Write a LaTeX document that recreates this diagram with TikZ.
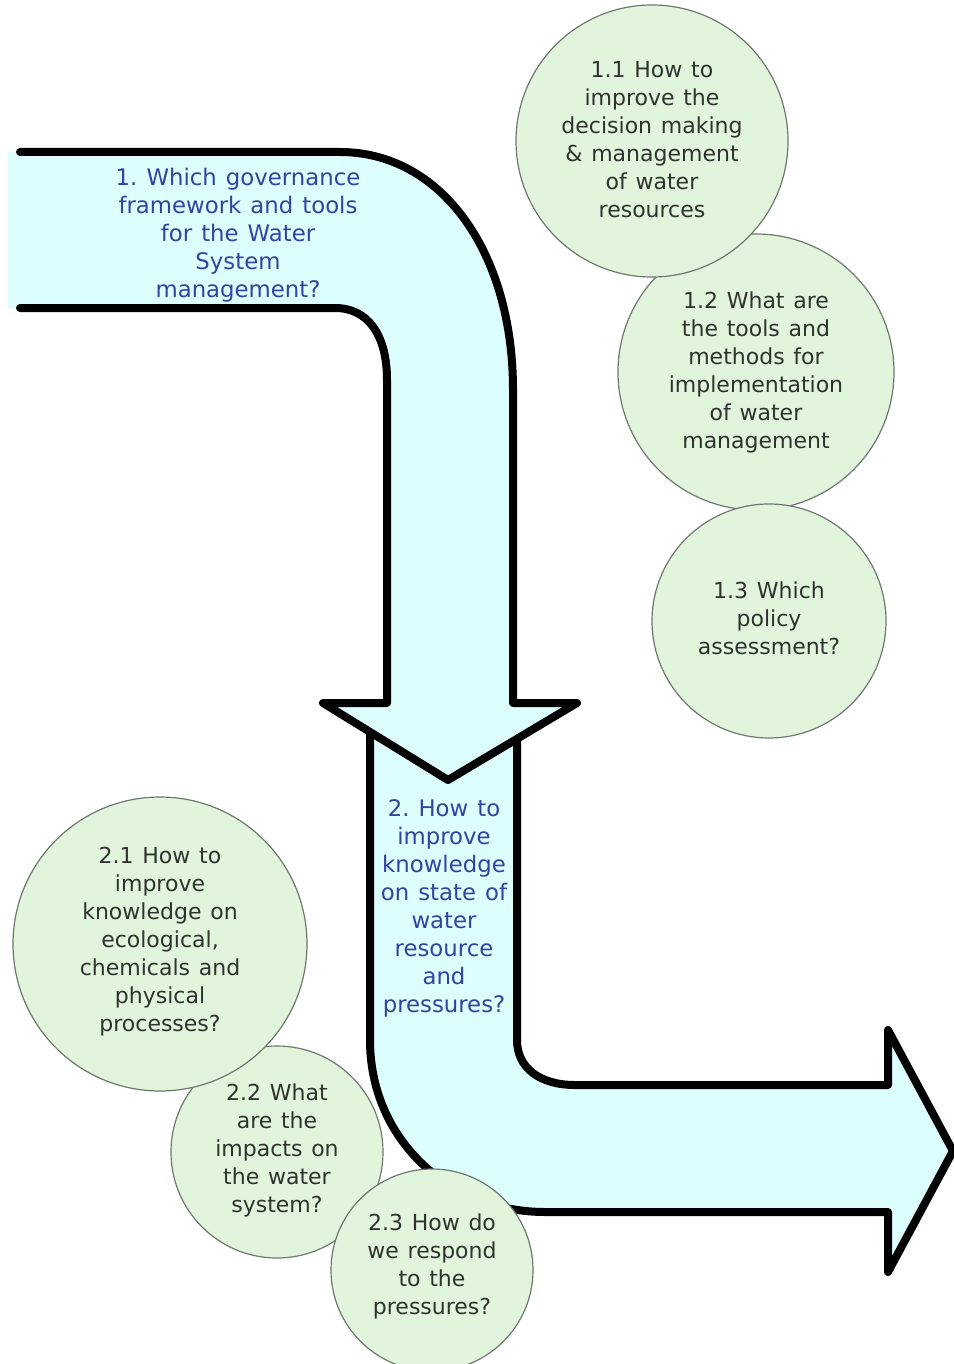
\documentclass[tikz,border=0pt]{standalone}
\usepackage{fontspec}
\setmainfont{DejaVu Sans}[WordSpace=1.25]
\frenchspacing
\definecolor{arrowfill}{HTML}{DCFEFF}
\definecolor{circfill}{HTML}{E1F5DC}
\definecolor{circline}{HTML}{6E786E}
\definecolor{bluetext}{HTML}{3344A0}
\definecolor{circtext}{HTML}{2E332E}
\begin{document}
\begin{tikzpicture}[x=1pt,y=-1pt,
  bubble/.style={circle, fill=circfill, draw=circline, line width=1.2pt, inner sep=0pt},
  bubtext/.style={align=center, text=circtext, inner sep=0pt, font=\frenchspacing\fontsize{22}{28}\selectfont},
  arrowtext/.style={align=center, text=bluetext, inner sep=0pt, font=\frenchspacing\fontsize{22.8}{28}\selectfont},
  pipe/.style={draw=black, line width=8pt, line join=round, line cap=round}]
\useasboundingbox (0,0) rectangle (953,1364);

% arrow 2 (drawn first, under the head of arrow 1)
\draw[pipe, fill=arrowfill] (370,712) -- (370,1040)
  .. controls (370,1140) and (450,1212) .. (545,1212)
  -- (888,1212) -- (888,1272) -- (953,1151) -- (888,1030) -- (888,1085)
  -- (575,1085) .. controls (540,1085) and (517,1068) .. (517,1040)
  -- (517,712) -- cycle;

% arrow 1
\fill[arrowfill] (8,152) -- (340,152)
  .. controls (440,152) and (513,250) .. (513,390)
  -- (513,703) -- (577,703) -- (448,780) -- (323,703) -- (387,703)
  -- (387,380) .. controls (387,335) and (368,308) .. (335,308)
  -- (8,308) -- cycle;
\draw[pipe] (20,152) -- (340,152)
  .. controls (440,152) and (513,250) .. (513,390)
  -- (513,703) -- (577,703) -- (448,780) -- (323,703) -- (387,703)
  -- (387,380) .. controls (387,335) and (368,308) .. (335,308)
  -- (20,308);

\node[arrowtext] (a1) at (238,235) {1. Which governance\\framework and tools\\for the Water\\System\\management?};
\node[arrowtext] (a2) at (444,908) {2. How to\\improve\\knowledge\\on state of\\water\\resource\\and\\pressures?};

% circles, group 1
\node[bubble, minimum size=276pt] (c12) at (756,372) {};
\node[bubble, minimum size=272pt] (c11) at (652,141) {};
\node[bubble, minimum size=234pt] (c13) at (769,621) {};
\node[bubtext] (t11) at (652,140) {1.1 How to\\improve the\\decision making\\\& management\\of water\\resources};
\node[bubtext] (t12) at (756,372) {1.2 What are\\the tools and\\methods for\\implementation\\of water\\management};
\node[bubtext] (t13) at (769,618) {1.3 Which\\policy\\assessment?};

% circles, group 2
\node[bubble, minimum size=212pt] (c22) at (277,1152) {};
\node[bubble, minimum size=294pt] (c21) at (160,944) {};
\node[bubble, minimum size=202pt] (c23) at (432,1270) {};
\node[bubtext] (t21) at (160,942) {2.1 How to\\improve\\knowledge on\\ecological,\\chemicals and\\physical\\processes?};
\node[bubtext] (t22) at (277,1150) {2.2 What\\are the\\impacts on\\the water\\system?};
\node[bubtext] (t23) at (432,1266) {2.3 How do\\we respond\\to the\\pressures?};
\end{tikzpicture}
\end{document}
